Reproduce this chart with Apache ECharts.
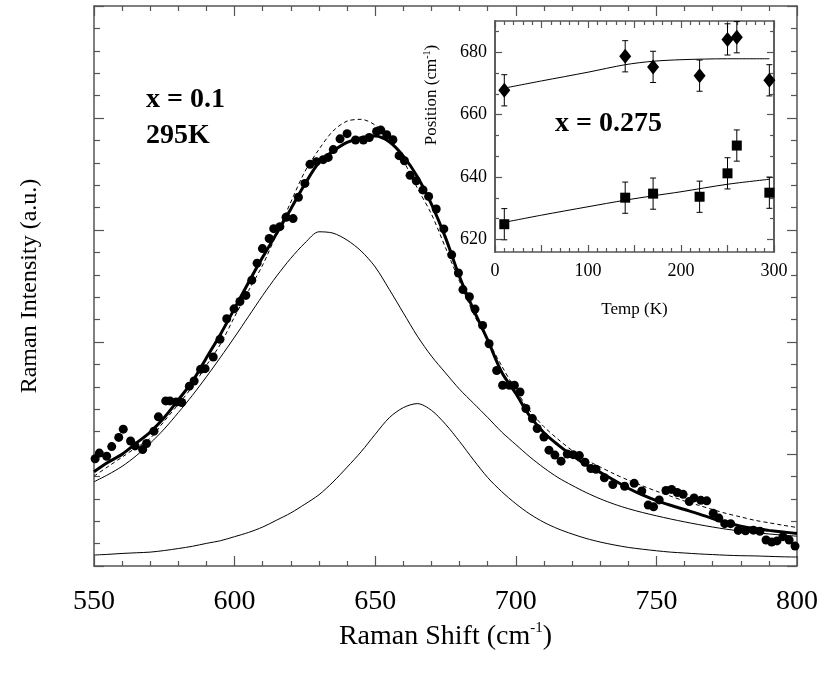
<!DOCTYPE html>
<html>
<head>
<meta charset="utf-8">
<script src="https://cdn.jsdelivr.net/npm/echarts@6/dist/echarts.min.js"></script>
<style>
  html, body { margin: 0; padding: 0; background: #fff; }
  #chart { width: 823px; height: 680px; }
</style>
</head>
<body>
<div id="chart"></div>
<script>
// main panel: measured spectrum (dots)
const shiftPoints = [
  550.4, 551.9, 554.5, 556.3, 558.8, 560.4, 563.0, 564.6, 567.3, 568.7,
  571.3, 572.9, 575.5, 577.0, 579.2, 581.2, 583.9, 585.6, 587.9, 589.5,
  592.4, 594.8, 597.2, 599.8, 601.9, 604.0, 606.1, 608.0, 609.9, 612.3,
  613.9, 616.1, 618.3, 620.8, 622.7, 625.0, 626.8, 629.1, 631.5, 633.3,
  635.1, 637.5, 640.0, 643.0, 645.8, 647.9, 650.5, 652.0, 654.1, 656.3,
  658.5, 660.4, 662.4, 664.6, 667.0, 669.0, 671.7, 674.4, 677.2, 679.6,
  681.2, 683.5, 685.5, 688.2, 690.5, 693.2, 695.3, 697.7, 699.5, 701.5,
  703.6, 705.9, 707.6, 710.0, 711.8, 713.9, 716.1, 718.3, 720.4, 722.6,
  724.6, 726.7, 728.5, 731.5, 734.5, 738.7, 742.1, 744.8, 747.1, 749.0,
  751.0, 753.4, 755.4, 757.4, 759.5, 761.7, 763.4, 765.8, 767.9, 770.2,
  772.2, 774.3, 776.4, 779.1, 781.7, 784.5, 786.8, 789.0, 791.0, 792.9,
  795.0, 797.2, 799.3
];
const intensityPoints = [
  4.79, 5.04, 4.90, 5.33, 5.74, 6.11, 5.58, 5.36, 5.20, 5.47,
  6.02, 6.66, 7.37, 7.37, 7.32, 7.30, 8.03, 8.26, 8.78, 8.81,
  9.33, 10.12, 11.04, 11.48, 11.81, 12.08, 12.76, 13.52, 14.17, 14.62,
  15.06, 15.15, 15.57, 15.51, 16.46, 17.08, 17.93, 18.05, 18.14, 18.24,
  18.59, 19.07, 19.30, 19.02, 19.02, 19.13, 19.40, 19.46, 19.25, 19.03,
  18.32, 18.09, 17.44, 17.20, 16.79, 16.50, 15.94, 15.05, 13.89, 13.08,
  12.34, 12.02, 11.47, 10.74, 9.92, 8.73, 8.07, 8.07, 8.07, 7.77,
  7.03, 6.58, 6.14, 5.76, 5.17, 4.95, 4.68, 5.00, 4.97, 4.93,
  4.63, 4.35, 4.32, 3.94, 3.64, 3.56, 3.69, 3.35, 2.72, 2.64,
  2.95, 3.37, 3.42, 3.28, 3.20, 2.88, 3.04, 2.93, 2.91, 2.35,
  2.14, 1.89, 1.89, 1.59, 1.57, 1.60, 1.55, 1.16, 1.07, 1.12,
  1.31, 1.16, 0.89
];

// fitted curves, read every 5 cm-1
const fitShift = [
  550, 555, 560, 565, 570, 575, 580, 585, 590, 595,
  600, 605, 610, 615, 620, 625, 630, 635, 640, 645,
  650, 655, 660, 665, 670, 675, 680, 685, 690, 695,
  700, 705, 710, 715, 720, 725, 730, 735, 740, 745,
  750, 755, 760, 765, 770, 775, 780, 785, 790, 795, 800
];
const totalFit = [
  4.21, 4.63, 4.99, 5.48, 5.98, 6.63, 7.42, 8.24, 9.30, 10.35,
  11.50, 12.67, 13.79, 14.86, 15.94, 17.05, 18.01, 18.52, 18.91, 19.12,
  19.20, 18.94, 18.30, 17.38, 16.16, 14.66, 12.91, 11.43, 10.09, 8.65,
  7.70, 6.69, 5.95, 5.41, 4.94, 4.52, 4.18, 3.83, 3.47, 3.17,
  2.92, 2.71, 2.52, 2.33, 2.12, 1.93, 1.78, 1.67, 1.59, 1.52, 1.45
];
const singleFit = [
  4.01, 4.44, 4.86, 5.29, 5.70, 6.47, 7.22, 8.01, 8.96, 9.91,
  11.13, 12.30, 13.44, 14.84, 16.25, 17.61, 18.60, 19.42, 19.86, 19.94,
  19.68, 19.07, 18.10, 16.87, 15.71, 14.21, 12.70, 11.25, 10.09, 8.93,
  7.86, 6.93, 6.22, 5.66, 5.16, 4.74, 4.42, 4.11, 3.83, 3.58,
  3.34, 3.12, 2.90, 2.71, 2.52, 2.34, 2.19, 2.04, 1.93, 1.82, 1.72
];
const lowerModeFit = [
  3.76, 4.08, 4.45, 4.92, 5.48, 6.12, 6.85, 7.62, 8.45, 9.32,
  10.22, 11.15, 12.08, 12.95, 13.74, 14.42, 14.92, 14.86, 14.55, 14.06,
  13.35, 12.35, 11.30, 10.26, 9.37, 8.62, 7.89, 7.26, 6.63, 5.98,
  5.42, 4.87, 4.38, 3.95, 3.60, 3.28, 3.00, 2.76, 2.56, 2.39,
  2.24, 2.10, 1.97, 1.85, 1.74, 1.64, 1.56, 1.49, 1.43, 1.38, 1.33
];
const upperModeFit = [
  0.49, 0.52, 0.56, 0.59, 0.62, 0.69, 0.78, 0.88, 1.01, 1.13,
  1.31, 1.50, 1.74, 2.05, 2.37, 2.76, 3.18, 3.75, 4.41, 5.10,
  5.88, 6.62, 7.07, 7.25, 6.95, 6.33, 5.56, 4.73, 3.95, 3.32,
  2.78, 2.32, 1.95, 1.66, 1.43, 1.23, 1.07, 0.94, 0.83, 0.75,
  0.68, 0.62, 0.58, 0.54, 0.51, 0.48, 0.46, 0.45, 0.43, 0.41, 0.40
];

// inset: peak positions against temperature
const tempPoints = [10, 140, 170, 220, 250, 260, 295];
const upperPosition = [667.8, 678.7, 675.3, 672.5, 684.1, 684.8, 671.0];
const lowerPosition = [624.9, 633.4, 634.7, 633.7, 641.2, 650.1, 635.0];
const positionError = [5, 5, 5, 5, 5, 5, 5];
const fitTemp = [10, 50, 100, 140, 170, 200, 250, 295];
const upperPositionFit = [668.5, 670.8, 673.6, 676.0, 677.1, 677.6, 677.9, 677.9];
const lowerPositionFit = [625.5, 627.8, 630.5, 632.6, 634.0, 635.3, 637.7, 639.3];
const positionTicks = [620, 640, 660, 680];
const positionMinorTicks = [626.67, 633.33, 646.67, 653.33, 666.67, 673.33, 686.67];

const serif = '"Liberation Serif", "DejaVu Serif", serif';
const frameColor = '#555';

const pairs = (xs, ys) => xs.map((x, i) => [x, ys[i]]);

// one side of a plot frame: line + inward ticks, no labels by default
function frameAxis(opts) {
  const tickStyle = { color: frameColor, width: 1.2 };
  return Object.assign({
    type: 'value',
    axisLine: { show: true, onZero: false, lineStyle: { color: frameColor, width: 1.5 } },
    axisTick: { show: true, inside: true, length: opts.tickLen, lineStyle: tickStyle },
    minorTick: { show: !!opts.minor, splitNumber: opts.minor || 5, length: opts.minorLen, lineStyle: tickStyle },
    splitLine: { show: false },
    minorSplitLine: { show: false },
    axisLabel: { show: false },
    axisPointer: { show: false }
  }, opts.extra);
}

const mainX = { min: 550, max: 800, interval: 50 };
const mainY = { min: 0, max: 25, interval: 5 };
const insetX = { min: 0, max: 300, interval: 50 };
const insetY = { min: 616, max: 690 };

const myChart = echarts.init(document.getElementById('chart'));

const option = {
  animation: false,
  backgroundColor: '#fff',
  grid: [
    { left: 94, top: 6, width: 703, height: 560, show: false },
    { left: 495, top: 21, width: 279, height: 231, show: true, backgroundColor: '#fff', borderWidth: 0 }
  ],
  xAxis: [
    frameAxis({ tickLen: 10, minor: 5, minorLen: 5, extra: Object.assign({
      gridIndex: 0, position: 'bottom',
      axisLabel: { show: true, margin: 22, color: '#000', fontSize: 28, fontFamily: serif },
      name: '{t|Raman Shift (cm}{s|-1}{t|)}',
      nameLocation: 'middle',
      nameGap: 54,
      nameTextStyle: {
        rich: {
          t: { fontSize: 28, fontFamily: serif, color: '#000', lineHeight: 32 },
          s: { fontSize: 15, fontFamily: serif, color: '#000', verticalAlign: 'top', lineHeight: 32 }
        }
      }
    }, mainX) }),
    frameAxis({ tickLen: 10, minor: 5, minorLen: 5, extra: Object.assign({ gridIndex: 0, position: 'top' }, mainX) }),
    frameAxis({ tickLen: 7, minor: 5, minorLen: 4, extra: Object.assign({
      gridIndex: 1, position: 'bottom',
      axisLabel: {
        show: true, margin: 10, color: '#000', fontSize: 18, fontFamily: serif,
        formatter: v => (v % 100 === 0 ? String(v) : '')
      },
      name: 'Temp (K)',
      nameLocation: 'middle',
      nameGap: 49,
      nameTextStyle: { fontSize: 17, fontFamily: serif, color: '#000' }
    }, insetX) }),
    frameAxis({ tickLen: 7, minor: 5, minorLen: 4, extra: Object.assign({ gridIndex: 1, position: 'top' }, insetX) })
  ],
  yAxis: [
    frameAxis({ tickLen: 10, minor: 5, minorLen: 6, extra: Object.assign({
      gridIndex: 0, position: 'left',
      name: 'Raman Intensity (a.u.)',
      nameLocation: 'middle',
      nameGap: 52,
      nameRotate: 90,
      nameTextStyle: { fontSize: 24, fontFamily: serif, color: '#000' }
    }, mainY) }),
    frameAxis({ tickLen: 10, minor: 5, minorLen: 6, extra: Object.assign({ gridIndex: 0, position: 'right' }, mainY) }),
    frameAxis({ tickLen: 7, extra: Object.assign({
      gridIndex: 1, position: 'left',
      axisTick: { show: true, inside: true, length: 7, customValues: positionTicks, lineStyle: { color: frameColor, width: 1.2 } },
      axisLabel: { show: true, margin: 8, color: '#000', fontSize: 18, fontFamily: serif, customValues: positionTicks }
    }, insetY) }),
    frameAxis({ tickLen: 7, extra: Object.assign({
      gridIndex: 1, position: 'right',
      axisTick: { show: true, inside: true, length: 7, customValues: positionTicks, lineStyle: { color: frameColor, width: 1.2 } }
    }, insetY) }),
    frameAxis({ tickLen: 4, extra: Object.assign({
      gridIndex: 1, position: 'left',
      axisTick: { show: true, inside: true, length: 4, customValues: positionMinorTicks, lineStyle: { color: frameColor, width: 1.2 } }
    }, insetY) }),
    frameAxis({ tickLen: 4, extra: Object.assign({
      gridIndex: 1, position: 'right',
      axisTick: { show: true, inside: true, length: 4, customValues: positionMinorTicks, lineStyle: { color: frameColor, width: 1.2 } }
    }, insetY) })
  ],
  series: [
    {
      type: 'line', xAxisIndex: 0, yAxisIndex: 0, data: pairs(fitShift, upperModeFit),
      showSymbol: false, smooth: 0.3, lineStyle: { color: '#000', width: 1 }, z: 2
    },
    {
      type: 'line', xAxisIndex: 0, yAxisIndex: 0, data: pairs(fitShift, lowerModeFit),
      showSymbol: false, smooth: 0.3, lineStyle: { color: '#000', width: 1 }, z: 2
    },
    {
      type: 'line', xAxisIndex: 0, yAxisIndex: 0, data: pairs(fitShift, singleFit),
      showSymbol: false, smooth: 0.3, lineStyle: { color: '#000', width: 1, type: [4, 3] }, z: 2
    },
    {
      type: 'line', xAxisIndex: 0, yAxisIndex: 0, data: pairs(fitShift, totalFit),
      showSymbol: false, smooth: 0.3, lineStyle: { color: '#000', width: 3 }, z: 3
    },
    {
      type: 'scatter', xAxisIndex: 0, yAxisIndex: 0, data: pairs(shiftPoints, intensityPoints),
      symbol: 'circle', symbolSize: 9, itemStyle: { color: '#000', opacity: 1 }, z: 4
    },
    // inset
    {
      type: 'line', xAxisIndex: 2, yAxisIndex: 2, data: pairs(fitTemp, upperPositionFit),
      showSymbol: false, smooth: 0.3, lineStyle: { color: '#000', width: 1 }, z: 5
    },
    {
      type: 'line', xAxisIndex: 2, yAxisIndex: 2, data: pairs(fitTemp, lowerPositionFit),
      showSymbol: false, smooth: 0.3, lineStyle: { color: '#000', width: 1 }, z: 5
    },
    {
      type: 'custom', xAxisIndex: 2, yAxisIndex: 2, z: 6,
      data: tempPoints.map((t, i) => [t, upperPosition[i], positionError[i]])
        .concat(tempPoints.map((t, i) => [t, lowerPosition[i], positionError[i]])),
      encode: { x: 0, y: 1 },
      renderItem: function (params, api) {
        const x = api.value(0), y = api.value(1), e = api.value(2);
        const top = api.coord([x, y + e]);
        const bottom = api.coord([x, y - e]);
        const cap = 3;
        const style = { stroke: '#000', lineWidth: 1 };
        return {
          type: 'group',
          children: [
            { type: 'line', shape: { x1: top[0], y1: top[1], x2: bottom[0], y2: bottom[1] }, style: style },
            { type: 'line', shape: { x1: top[0] - cap, y1: top[1], x2: top[0] + cap, y2: top[1] }, style: style },
            { type: 'line', shape: { x1: bottom[0] - cap, y1: bottom[1], x2: bottom[0] + cap, y2: bottom[1] }, style: style }
          ]
        };
      }
    },
    {
      type: 'scatter', xAxisIndex: 2, yAxisIndex: 2, data: pairs(tempPoints, upperPosition),
      symbol: 'diamond', symbolSize: [12, 15], itemStyle: { color: '#000', opacity: 1 }, z: 7
    },
    {
      type: 'scatter', xAxisIndex: 2, yAxisIndex: 2, data: pairs(tempPoints, lowerPosition),
      symbol: 'rect', symbolSize: 10, itemStyle: { color: '#000', opacity: 1 }, z: 7
    }
  ],
  graphic: [
    { type: 'text', left: 146, top: 86, z: 10, style: { text: 'x = 0.1', font: 'bold 28px ' + serif, fill: '#000' } },
    { type: 'text', left: 146, top: 122, z: 10, style: { text: '295K', font: 'bold 28px ' + serif, fill: '#000' } },
    { type: 'text', left: 555, top: 110, z: 10, style: { text: 'x = 0.275', font: 'bold 28px ' + serif, fill: '#000' } },
    {
      type: 'text', x: 432, y: 95, rotation: Math.PI / 2, z: 10,
      style: {
        text: '{t|Position (cm}{s|-1}{t|)}',
        align: 'center',
        verticalAlign: 'middle',
        rich: {
          t: { fontSize: 17, fontFamily: serif, fill: '#000', lineHeight: 20 },
          s: { fontSize: 10, fontFamily: serif, fill: '#000', verticalAlign: 'top', lineHeight: 20 }
        }
      }
    }
  ]
};

myChart.setOption(option, true);
</script>
</body>
</html>
